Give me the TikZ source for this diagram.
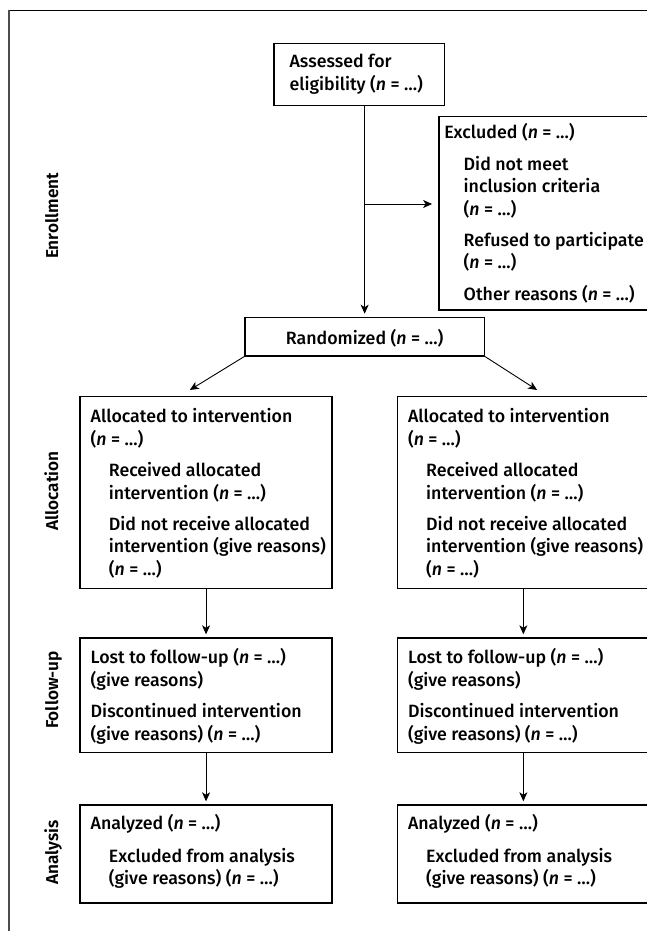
\documentclass[tikz,border=0pt]{standalone}
\usepackage{fontspec}
\setmainfont{Fira Sans}[UprightFont=* Medium, ItalicFont=* Medium Italic, BoldFont=* SemiBold]
\usetikzlibrary{arrows.meta}

\newlength{\padL}\newlength{\padS}\newlength{\firstbl}
\newcommand{\mainp}[1]{\par\leftskip=\padL\relax #1\par}
\newcommand{\subp}[1]{\par\leftskip=\padS\relax #1\par}
\newcommand{\fl}{\rule{0pt}{\firstbl}}
\newcommand{\nn}{(\textit{n} = …)}
\newcommand{\boxbody}[6]{%
  \begin{minipage}[t][#2pt][t]{#1pt}%
  \setlength{\firstbl}{#3pt}\setlength{\padL}{#4pt}\setlength{\padS}{#5pt}%
  \raggedright\rightskip=-200pt plus 1fil\relax
  \parskip=8.7pt\relax #6%
  \end{minipage}}

\tikzset{
  box/.style={draw, line width=1.6pt, inner sep=0pt, anchor=north west,
    font=\fontsize{17.8}{22.5}\selectfont},
  conn/.style={line width=0.9pt, -{Stealth[length=9pt,width=8pt,inset=2.5pt]}},
  phase/.style={rotate=90, anchor=base, inner sep=0pt,
    font=\bfseries\fontsize{17.2}{20}\selectfont},
}

\begin{document}
\begin{tikzpicture}[x=1pt,y=-1pt]
\useasboundingbox (0,0) rectangle (647,931);
\clip (0,0) rectangle (647,931);

% frame
\draw[line width=1pt] (9,10.5) -- (648,10.5);
\draw[line width=1.8pt, black!70] (9,10) -- (9,932);

% phase labels
\node[phase] (lenr) at (58,216) {Enrollment};
\node[phase] (lall) at (58,491) {Allocation};
\node[phase] (lfol) at (58,690) {Follow-up};
\node[phase] (lana) at (58,852.5) {Analysis};

% boxes
\node[box] (assess) at (273.1,42.7) {\boxbody{170.4}{62}{24.3}{15.7}{15.7}{%
  \mainp{\fl Assessed for\\eligibility \nn}}};

\node[box] (excl) at (438.1,115.7) {\boxbody{211}{193.6}{22.5}{5.4}{24.8}{%
  \mainp{\fl Excluded \nn}%
  \subp{Did not meet\\inclusion criteria\\\nn}%
  \subp{Refused to participate\\\nn}%
  \subp{Other reasons \nn}}};

\node[box] (rand) at (244.2,316.7) {%
  \begin{minipage}[t][38.3pt][t]{239.3pt}\centering\rule{0pt}{26.6pt}Randomized \nn\end{minipage}};

\node[box] (allocL) at (79.2,395.7) {\boxbody{252.1}{192}{26.3}{10.7}{28.9}{%
  \mainp{\fl Allocated to intervention\\\nn}%
  \subp{Received allocated\\intervention \nn}%
  \subp{Did not receive allocated\\intervention (give reasons)\\\nn}}};

\node[box] (allocR) at (396.5,395.7) {\boxbody{252.1}{192}{26.3}{10.7}{28.9}{%
  \mainp{\fl Allocated to intervention\\\nn}%
  \subp{Received allocated\\intervention \nn}%
  \subp{Did not receive allocated\\intervention (give reasons)\\\nn}}};

\node[box] (follL) at (79.2,637.3) {\boxbody{252.1}{114.4}{25.7}{10.7}{28.9}{%
  \mainp{\fl Lost to follow-up \nn\\(give reasons)}%
  \mainp{Discontinued intervention\\(give reasons) \nn}}};

\node[box] (follR) at (396.5,637.3) {\boxbody{252.1}{114.4}{25.7}{10.7}{28.9}{%
  \mainp{\fl Lost to follow-up \nn\\(give reasons)}%
  \mainp{Discontinued intervention\\(give reasons) \nn}}};

\node[box] (anaL) at (79.2,804.3) {\boxbody{252.1}{98}{24}{10.7}{28.9}{%
  \mainp{\fl Analyzed \nn}\vspace{2pt}%
  \subp{Excluded from analysis\\(give reasons) \nn}}};

\node[box] (anaR) at (396.5,804.3) {\boxbody{252.1}{98}{24}{10.7}{28.9}{%
  \mainp{\fl Analyzed \nn}\vspace{2pt}%
  \subp{Excluded from analysis\\(give reasons) \nn}}};

% connectors
\coordinate (branch) at (rand.north |- 0,204);
\coordinate (tipL) at (189.8,390);
\coordinate (tipR) at (537.1,390);

\draw[conn, shorten >=3pt] (assess.south -| rand.north) -- (rand.north);
\draw[conn, shorten >=6pt] (branch) -- (branch -| excl.west);
\draw[conn] (rand.south west) -- (tipL);
\draw[conn] (rand.south east) -- (tipR);
\draw[conn, shorten >=3pt] (allocL.south) -- (follL.north);
\draw[conn, shorten >=3pt] (allocR.south) -- (follR.north);
\draw[conn, shorten >=3pt] (follL.south) -- (anaL.north);
\draw[conn, shorten >=3pt] (follR.south) -- (anaR.north);
\end{tikzpicture}
\end{document}
